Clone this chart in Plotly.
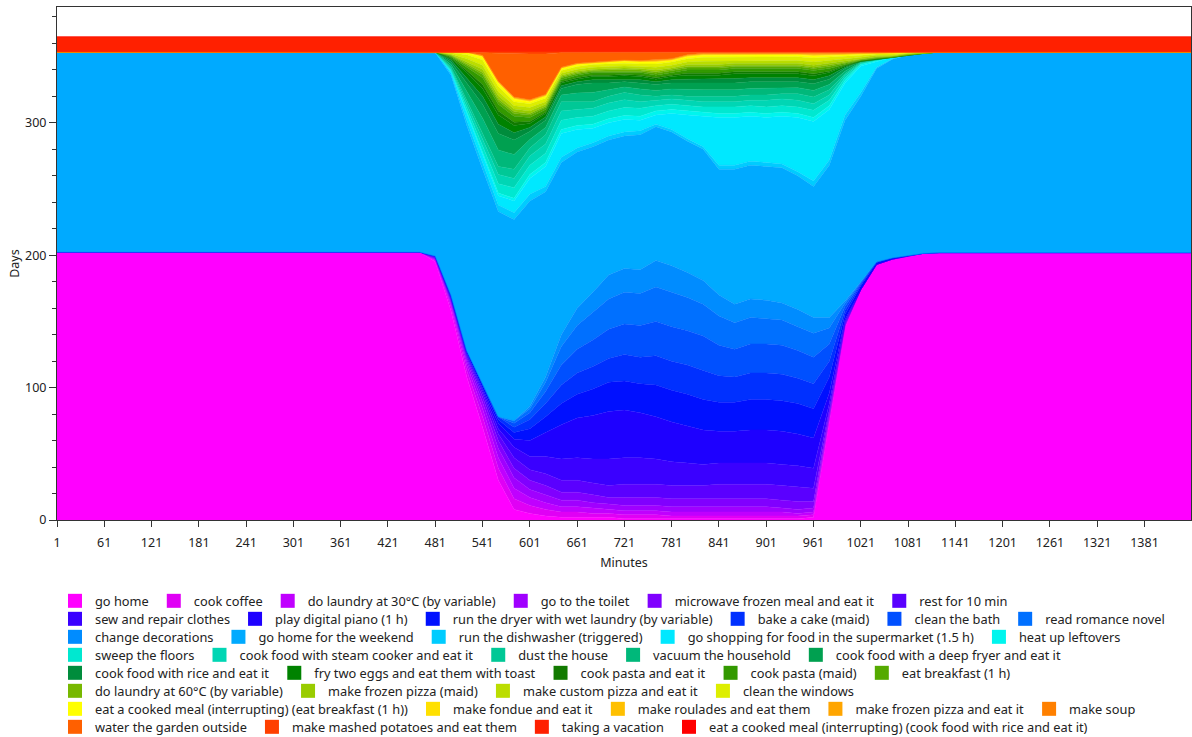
import plotly.graph_objects as go

# sampled minutes of the day (x axis)
minutes = [1, 461, 481, 501, 521, 541, 561, 581, 601, 621, 641, 661, 681, 701, 721, 741, 761, 781,
           801, 821, 841, 861, 881, 901, 921, 941, 961, 981, 1001, 1021, 1041, 1061, 1081, 1101, 1121, 1440]

go_home = [202.5, 202.5, 195, 158, 108, 70, 30, 8, 5, 3, 2, 2, 2, 2, 1, 1, 1, 1,
           1, 1, 1, 1, 1, 1, 1, 1, 2, 75, 145.5, 174, 193, 197, 199.5, 201.5, 202, 202]
cook_coffee = [0, 0, 1, 3, 5, 8, 9, 8, 6, 5, 4, 4, 3, 3, 3, 3, 3, 2,
               2, 2, 2, 2, 2, 2, 2, 2, 2, 1, 0.5, 0, 0, 0, 0, 0, 0, 0]
laundry_30 = [0, 0, 0.5, 2, 4, 6, 8, 8, 6, 5, 4, 4, 4, 3, 3, 3, 3, 3,
              3, 3, 3, 3, 3, 3, 3, 2, 2, 1, 0.5, 0, 0, 0, 0, 0, 0, 0]
toilet = [0, 0, 0.5, 1.5, 3, 5, 7, 8, 6, 6, 5, 5, 4, 4, 4, 4, 4, 4,
          4, 4, 4, 4, 4, 4, 3, 3, 3, 1, 0.5, 0, 0, 0, 0, 0, 0, 0]
microwave = [0, 0, 0.5, 1, 2, 4, 6, 7, 7, 7, 6, 6, 6, 5, 6, 6, 6, 6,
             6, 6, 6, 6, 6, 6, 6, 6, 5, 2, 0.5, 0, 0, 0, 0, 0, 0, 0]
rest_10 = [0, 0, 0.5, 1, 1.5, 3, 5, 8, 8, 9, 9, 9, 9, 9, 10, 10, 10, 10,
           10, 10, 11, 11, 11, 11, 11, 11, 10, 3, 1, 0, 0, 0, 0, 0, 0, 0]
sew = [0, 0, 0.5, 1, 1.5, 2, 4, 8, 10, 13, 16, 17, 18, 20, 20, 20, 19, 18,
       17, 16, 16, 16, 16, 16, 16, 16, 15, 5, 1, 0, 0, 0, 0, 0, 0, 0]
piano = [0, 0, 0.5, 0.5, 1, 2, 4, 6, 12, 18, 26, 30, 33, 36, 36, 34, 32, 30,
         28, 26, 24, 24, 25, 25, 25, 24, 23, 8, 2, 0, 0, 0, 0, 0, 0, 0]
dryer = [0, 0, 0.5, 2, 2, 2, 3, 5, 9, 12, 16, 18, 20, 22, 22, 22, 24, 24,
         24, 23, 22, 22, 23, 23, 23, 23, 22, 12, 4, 3, 1.5, 1, 0.5, 0, 0, 0]
bake_cake = [0, 0, 0, 0, 0, 1, 2, 4, 7, 10, 14, 16, 17, 18, 20, 20, 22, 22,
             22, 22, 20, 19, 20, 20, 20, 19, 19, 12, 3, 1, 0.5, 0, 0, 0, 0, 0]
clean_bath = [0, 0, 0, 0, 0, 0, 0, 3, 5, 9, 15, 18, 20, 22, 23, 24, 26, 26,
              26, 26, 23, 21, 22, 22, 22, 21, 20, 13, 3, 1, 0, 0, 0, 0, 0, 0]
romance = [0, 0, 0, 0, 0, 0, 0, 2, 3, 7, 14, 18, 21, 23, 24, 24, 26, 26,
           25, 24, 22, 20, 20, 19, 19, 18, 18, 12, 2.5, 0.5, 0, 0, 0, 0, 0, 0]
decorations = [0, 0, 0, 0, 0, 0, 0, 0, 2, 4, 9, 13, 15, 18, 18, 18, 20, 20,
               19, 18, 16, 14, 14, 14, 13, 13, 12, 8, 1.5, 0.5, 0, 0, 0, 0, 0, 0]
weekend = [151, 151, 153.5, 166, 170, 162, 155, 152, 155, 140, 130, 118, 110, 102, 100, 102, 101, 101,
           99, 99, 95, 102, 101, 101, 102, 101, 99, 115, 136.5, 140, 146, 150, 151, 151, 151.5, 151.5]
dishwasher = [0, 0, 0.5, 1.5, 4, 5, 5, 5, 5, 4, 4, 3, 3, 3, 3, 3, 2, 2,
              2, 2, 3, 3, 3, 3, 3, 3, 4, 4, 4, 3, 1, 0.5, 0, 0, 0, 0]
shopping = [0, 0, 0, 1, 4.5, 6, 7, 9, 12, 15, 18, 14, 11, 10, 9.5, 8, 7, 12,
            18, 23, 36, 36, 34, 34, 36, 41, 45, 38, 24, 20, 4.5, 1, 0.5, 0, 0, 0]
leftovers = [0, 0, 0, 0.5, 1.5, 2, 2, 2, 3, 3, 3, 3, 3, 3, 3, 3, 3, 3,
             3, 3, 3, 3, 3, 3, 3, 3, 3, 3, 2, 1, 0.5, 0, 0, 0, 0, 0]
sweep = [0, 0, 0, 1, 3, 5, 7, 8, 7, 7, 7, 6, 6, 6, 6, 6, 4, 4,
         4, 4, 5, 5, 5, 5, 5, 5, 5.5, 4, 2, 0.5, 0.5, 0, 0, 0, 0, 0]
steam_cooker = [0, 0, 0, 1, 3, 5, 7, 7, 7, 7, 7, 6, 6, 6, 6, 5, 4, 4,
                4, 4, 4, 4, 4, 5, 5, 5, 5, 4, 2, 0.5, 0, 0, 0, 0, 0, 0]
dust = [0, 0, 0, 1, 3, 5, 6, 7, 6, 7, 7, 6, 5, 5, 5.5, 5, 3, 3,
        3, 4, 4, 4, 4, 4, 4, 5, 5, 4, 1, 0.5, 0, 0, 0, 0, 0, 0]
vacuum = [0, 0, 0, 2, 6.5, 10.5, 12.5, 11, 6.5, 5.5, 5, 6.5, 7, 5, 4, 4.5, 4.5, 4.5,
          5, 5, 5, 5, 5, 5, 4.5, 4.5, 5, 4, 2, 0.5, 0.5, 0, 0, 0, 0, 0]
deep_fryer = [0, 0, 0, 2, 6.5, 10.5, 12.5, 11, 6, 5.5, 5, 6.5, 7, 5, 4, 4.5, 4.5, 4.5,
              5, 5, 5, 5, 5, 5, 4.5, 4.5, 5, 4, 2, 0.5, 0, 0, 0, 0, 0, 0]
rice = [0, 0, 0, 1.5, 4, 6, 7, 5.5, 3, 2.5, 2, 2, 2.5, 2.5, 2, 2.5, 2, 2.5,
        3, 3, 3, 3.5, 3, 3, 3, 3, 3, 2.5, 1, 0, 0, 0, 0, 0, 0, 0]
eggs = [0, 0, 0, 1, 4, 6, 7, 5.5, 3, 2.5, 2, 2, 2.5, 2.5, 2.5, 2.5, 2, 2.5,
        3, 3, 3, 3.5, 3, 3, 3, 3, 3, 2.5, 1, 0, 0, 0, 0, 0, 0, 0]
pasta = [0, 0, 0, 0.5, 1.5, 3, 3, 2.5, 1.5, 1, 1, 1, 1, 1, 1, 1, 1, 1,
         1.5, 1.5, 1.5, 1.5, 1.5, 1.5, 1.5, 1.5, 1.5, 1, 0.5, 0, 0, 0, 0, 0, 0, 0]
pasta_maid = [0, 0, 0, 1, 2.5, 5, 5, 4.5, 3, 2, 1.5, 2, 2, 2, 2, 2, 2, 2,
              2.5, 2.5, 2.5, 2.5, 2.5, 2.5, 2.5, 2.5, 2.5, 2, 0.5, 0.5, 0.5, 0, 0, 0, 0, 0]
breakfast = [0, 0, 0, 0.5, 1.5, 2.5, 2.5, 2, 2, 1.5, 1.5, 1, 1, 1, 1, 1, 1.5, 1.5,
             1.5, 1.5, 1.5, 1.5, 1.5, 1.5, 1.5, 1.5, 1.5, 1.5, 1, 0.5, 0.5, 0, 0, 0, 0, 0]
laundry_60 = [0, 0, 0, 0.5, 1, 1.5, 1.5, 1.5, 1, 1, 1, 1, 0.5, 1, 1, 1, 1, 1,
              1, 1, 1, 1, 1, 1, 1, 1, 1, 1, 0.5, 0.5, 0.5, 0.5, 0, 0, 0, 0]
pizza_maid = [0, 0, 0, 0.5, 1.5, 2.5, 2.5, 2, 2, 1.5, 1, 1, 1, 1, 1, 1, 1.5, 1,
              1.5, 1.5, 1.5, 1.5, 1.5, 1.5, 1.5, 1.5, 1.5, 1.5, 1, 0.5, 0.5, 0.5, 0.5, 0, 0, 0]
custom_pizza = [0, 0, 0, 0.5, 2.5, 3, 3, 2.5, 2.5, 2, 1.5, 1.5, 1.5, 1.5, 1.5, 1.5, 2, 2,
                2, 2.5, 2.5, 2, 2, 2, 2, 2, 2.5, 2, 1.5, 1, 1, 0.5, 0.5, 0.2, 0, 0]
windows = [0, 0, 0, 1, 3, 4, 4, 3, 3, 2.5, 2, 2, 2, 2, 2, 2, 2.5, 2.5,
           2.5, 3, 3, 3, 3, 3, 3, 3, 3, 2.5, 2, 1.5, 1, 1, 0.5, 0.5, 0, 0]
meal_breakfast = [0, 0, 0, 0.5, 1.5, 2.5, 2.5, 2, 1.5, 1.5, 1.5, 1.5, 1, 1.5, 1.5, 1.5, 1.5, 1,
                  1.5, 1.5, 1.5, 1.5, 1.5, 1.5, 1.5, 1.5, 1.5, 1.5, 1, 1, 0.5, 0.5, 0, 0, 0, 0]
fondue = [0, 0, 0, 0, 0.2, 0.3, 0.4, 0.4, 0.4, 0.4, 0.3, 0.3, 0.3, 0.3, 0.3, 0.3, 0.4, 0.4,
          0.4, 0.4, 0.4, 0.3, 0.3, 0.3, 0.3, 0.3, 0.5, 0.4, 0.4, 0.3, 0.2, 0.2, 0.1, 0.1, 0, 0]
roulades = [0, 0, 0, 0, 0.2, 0.3, 0.4, 0.4, 0.4, 0.4, 0.3, 0.3, 0.3, 0.3, 0.3, 0.3, 0.4, 0.4,
            0.4, 0.4, 0.4, 0.3, 0.3, 0.3, 0.3, 0.3, 0.5, 0.4, 0.4, 0.3, 0.2, 0.2, 0.1, 0.1, 0, 0]
frozen_pizza = [0, 0, 0, 0, 0.1, 0.2, 0.4, 0.4, 0.4, 0.4, 0.2, 0.2, 0.2, 0.2, 0.2, 0.2, 0.4, 0.4,
                0.4, 0.4, 0.4, 0.2, 0.2, 0.2, 0.2, 0.2, 0.5, 0.4, 0.4, 0.2, 0.1, 0.1, 0.1, 0.1, 0, 0]
soup = [0, 0, 0, 0, 0, 0.2, 0.3, 0.3, 0.3, 0.3, 0.2, 0.2, 0.2, 0.2, 0.2, 0.2, 0.3, 0.3,
        0.3, 0.3, 0.3, 0.2, 0.2, 0.2, 0.2, 0.2, 0.5, 0.3, 0.3, 0.2, 0, 0, 0, 0, 0, 0]
garden = [0, 0, 0, 0, 0, 2, 21, 32.5, 34.5, 30.5, 11, 8, 7, 6, 5.5, 6, 5.5, 4.5,
          1.5, 0.5, 0.5, 0.5, 0.5, 0.5, 0.5, 0.5, 0.5, 0.5, 0.5, 0.2, 0.2, 0.2, 0.1, 0, 0, 0]
mashed = [0, 0, 0, 0, 0, 0.5, 1, 1.5, 1.5, 1.5, 0.5, 0.5, 0.5, 0.5, 0.5, 0.5, 0.5, 0.5,
          0.5, 0.5, 0.5, 0.5, 0.5, 0.5, 0.5, 0.5, 0.5, 0.5, 0.5, 0.3, 0.3, 0.3, 0.1, 0, 0, 0]
vacation = [11.5, 11.5, 11.5, 11.5, 11.5, 11.5, 11.5, 11.5, 11.5, 11.5, 11.5, 11.5, 11.5, 11.5, 11.5, 11.5, 11.5, 11.5,
            11.5, 11.5, 11.5, 11.5, 11.5, 11.5, 11.5, 11.5, 11.5, 11.5, 11.5, 11.5, 11.5, 11.5, 11.5, 11.5, 11.5, 11.5]
meal_rice = [0, 0, 0, 0, 0.2, 0.3, 0.3, 0.3, 0.3, 0.3, 0.2, 0.2, 0.2, 0.2, 0.2, 0.2, 0.2, 0.2,
             0.2, 0.2, 0.2, 0.2, 0.2, 0.2, 0.2, 0.2, 0.2, 0.2, 0.1, 0, 0, 0, 0, 0, 0, 0]

names = [
    "go home", "cook coffee", "do laundry at 30°C (by variable)", "go to the toilet",
    "microwave frozen meal and eat it", "rest for 10 min", "sew and repair clothes",
    "play digital piano (1 h)", "run the dryer with wet laundry (by variable)", "bake a cake (maid)",
    "clean the bath", "read romance novel", "change decorations", "go home for the weekend",
    "run the dishwasher (triggered)", "go shopping for food in the supermarket (1.5 h)",
    "heat up leftovers", "sweep the floors", "cook food with steam cooker and eat it", "dust the house",
    "vacuum the household", "cook food with a deep fryer and eat it", "cook food with rice and eat it",
    "fry two eggs and eat them with toast", "cook pasta and eat it", "cook pasta (maid)",
    "eat breakfast (1 h)", "do laundry at 60°C (by variable)", "make frozen pizza (maid)",
    "make custom pizza and eat it", "clean the windows",
    "eat a cooked meal (interrupting) (eat breakfast (1 h))", "make fondue and eat it",
    "make roulades and eat them", "make frozen pizza and eat it", "make soup",
    "water the garden outside", "make mashed potatoes and eat them", "taking a vacation",
    "eat a cooked meal (interrupting) (cook food with rice and eat it)",
]
series = [go_home, cook_coffee, laundry_30, toilet, microwave, rest_10, sew, piano, dryer, bake_cake,
          clean_bath, romance, decorations, weekend, dishwasher, shopping, leftovers, sweep,
          steam_cooker, dust, vacuum, deep_fryer, rice, eggs, pasta, pasta_maid, breakfast,
          laundry_60, pizza_maid, custom_pizza, windows, meal_breakfast, fondue, roulades,
          frozen_pizza, soup, garden, mashed, vacation, meal_rice]
colors = ["#FF00FF", "#E000F5", "#C000FF", "#A000FF", "#8000FF", "#5A00FF", "#3A00FF", "#1E00FF",
          "#0010FF", "#0030FF", "#0050FF", "#0070FF", "#008CFF", "#00AAFF", "#00CCFF", "#00E8FF",
          "#00F5EE", "#00E8D0", "#00D6B4", "#00C896", "#00B87A", "#00A050", "#008C3C", "#008200",
          "#127A00", "#339900", "#55AA00", "#77B800", "#99CC00", "#BBDD00", "#DDEE00", "#FFFF00",
          "#FFE000", "#FFC000", "#FFA500", "#FF8000", "#FF6000", "#FF4000", "#FF2000", "#FF0000"]
# how many legend entries sit on each legend row
row_sizes = [6, 6, 5, 5, 5, 4, 5, 4]

FONT = "Noto Sans, Open Sans, sans-serif"
W, H = 1192, 737

fig = go.Figure()
for name, vals, col in zip(names, series, colors):
    fig.add_trace(go.Scatter(
        x=minutes, y=vals, name=name, mode="lines", stackgroup="days",
        line=dict(width=0.5, color=col), fillcolor=col,
        showlegend=False, hoverinfo="skip",
    ))

# legend: one horizontal legend per row so the entries flow like the original
legends = {}
k = 0
for r, n in enumerate(row_sizes):
    key = "legend" if r == 0 else f"legend{r + 1}"
    top = 586 + 18 * r
    legends[key] = dict(
        orientation="h", xref="container", yref="container", traceorder="normal",
        x=55 / W, xanchor="left", y=1 - top / H, yanchor="top",
        font=dict(size=12.8, color="#222"), itemwidth=30, bgcolor="rgba(0,0,0,0)",
    )
    for name, col in zip(names[k:k + n], colors[k:k + n]):
        fig.add_trace(go.Scatter(
            x=[None], y=[None], name=name, mode="markers", legend=key,
            marker=dict(symbol="square", size=14, color=col, line=dict(width=0)),
        ))
    k += n

fig.update_layout(
    width=W, height=H,
    margin=dict(l=57, r=1, t=7, b=217),
    paper_bgcolor="white", plot_bgcolor="white",
    font=dict(family=FONT, size=12.5, color="#222"),
    hovermode=False,
    xaxis=dict(
        range=[1, 1440], tickmode="array", tickvals=list(range(1, 1440, 60)),
        ticks="outside", ticklen=6, tickcolor="#333", showline=True, linecolor="#333",
        linewidth=1, mirror=True, showgrid=False, zeroline=False, ticklabelstandoff=5,
        title=dict(text="Minutes", font=dict(size=12.5), standoff=8),
    ),
    yaxis=dict(
        range=[0, 387.5], tickmode="linear", tick0=0, dtick=100,
        ticks="outside", ticklen=7, tickcolor="#333", showline=True, linecolor="#333",
        linewidth=1, mirror=True, showgrid=False, zeroline=False,
        minor=dict(tickmode="linear", tick0=0, dtick=20, ticks="outside", ticklen=4,
                   tickcolor="#333", showgrid=False),
        title=dict(text="Days", font=dict(size=12.5), standoff=2),
    ),
    **legends,
)

# the page body has a default margin; remove it so the figure sits at the window corner
fig.write_html("out.html", config={"displayModeBar": False},
               post_script="document.body.style.margin='0';")
